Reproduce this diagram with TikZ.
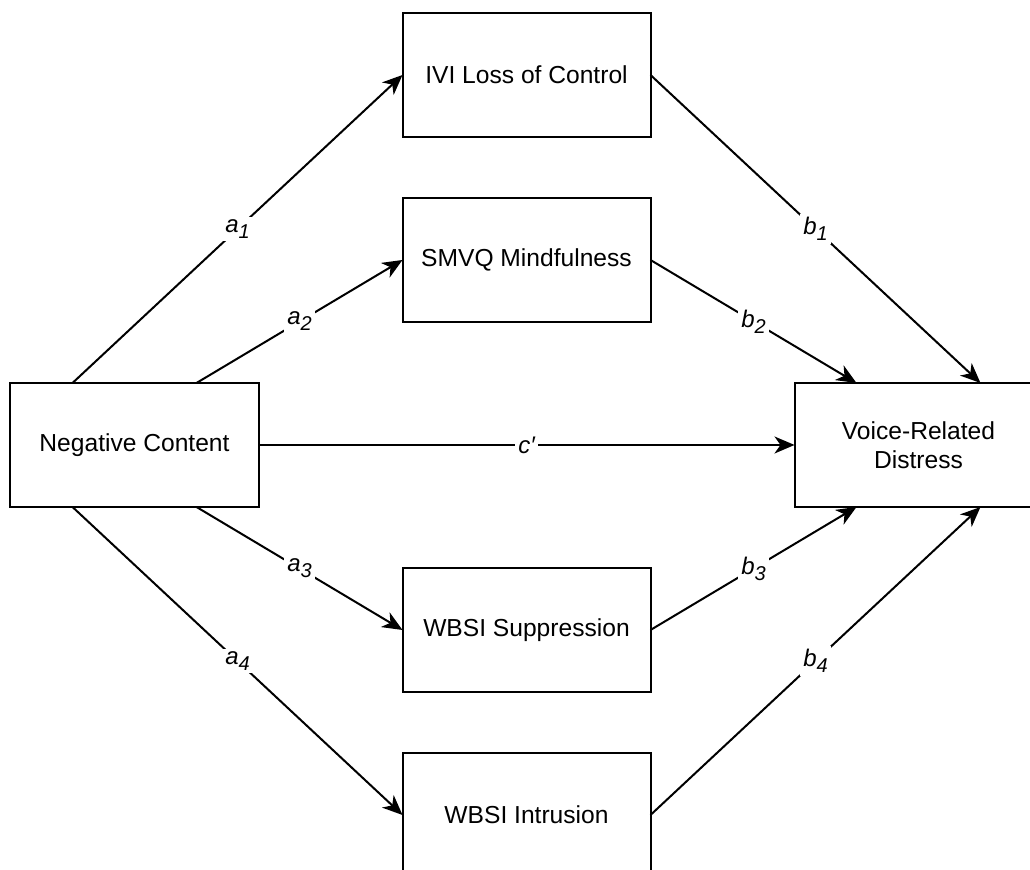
\documentclass[tikz,border=0pt]{standalone}
\usepackage{fontspec}
\setmainfont{Liberation Sans}
\usepackage{tikz}
\usetikzlibrary{arrows.meta,positioning,calc}
\definecolor{medInk}{HTML}{000000}
\newcommand{\psub}[1]{\raisebox{-3pt}{\fontsize{10}{12}\selectfont #1}}
\tikzset{
  varbox/.style={rectangle,draw=medInk,line width=1pt,fill=white,
    minimum width=124pt,minimum height=62pt,inner sep=0pt,outer sep=0pt,
    align=center,font=\fontsize{12.3}{14.5}\selectfont,text=medInk},
  arr/.style={-{Stealth[length=10pt,width=8.5pt,inset=3pt]},line width=1pt,color=medInk},
  lbl/.style={midway,fill=white,inner sep=1.5pt,
    font=\fontsize{12}{14}\selectfont\itshape,text=medInk},
}

\begin{document}
\begin{tikzpicture}[node distance=30.5pt and 72pt]
  \useasboundingbox (-67.25pt,222.5pt) rectangle (447.75pt,-212.5pt);
  \clip (-67.25pt,222.5pt) rectangle (447.75pt,-212.5pt);

  \node[varbox] (neg) {Negative Content};
  \node[varbox,above right=of neg] (smvq) {SMVQ Mindfulness};
  \node[varbox,above=of smvq] (ivi) {IVI Loss of Control};
  \node[varbox,below right=of neg] (supp) {WBSI Suppression};
  \node[varbox,below=of supp] (intr) {WBSI Intrusion};
  \node[varbox,below right=of smvq] (voice) {Voice-Related\\Distress};

  % a paths
  \draw[arr] ($(neg.north west)!.25!(neg.north east)$) -- node[lbl]{a\psub{1}} (ivi.west);
  \draw[arr] ($(neg.north west)!.75!(neg.north east)$) -- node[lbl]{a\psub{2}} (smvq.west);
  \draw[arr] ($(neg.south west)!.75!(neg.south east)$) -- node[lbl]{a\psub{3}} (supp.west);
  \draw[arr] ($(neg.south west)!.25!(neg.south east)$) -- node[lbl]{a\psub{4}} (intr.west);

  % b paths
  \draw[arr] (ivi.east) -- node[lbl]{b\psub{1}} ($(voice.north west)!.75!(voice.north east)$);
  \draw[arr] (smvq.east) -- node[lbl]{b\psub{2}} ($(voice.north west)!.25!(voice.north east)$);
  \draw[arr] (supp.east) -- node[lbl]{b\psub{3}} ($(voice.south west)!.25!(voice.south east)$);
  \draw[arr] (intr.east) -- node[lbl]{b\psub{4}} ($(voice.south west)!.75!(voice.south east)$);

  \draw[arr] (neg.east) -- node[lbl]{c′} (voice.west);
\end{tikzpicture}
\end{document}
